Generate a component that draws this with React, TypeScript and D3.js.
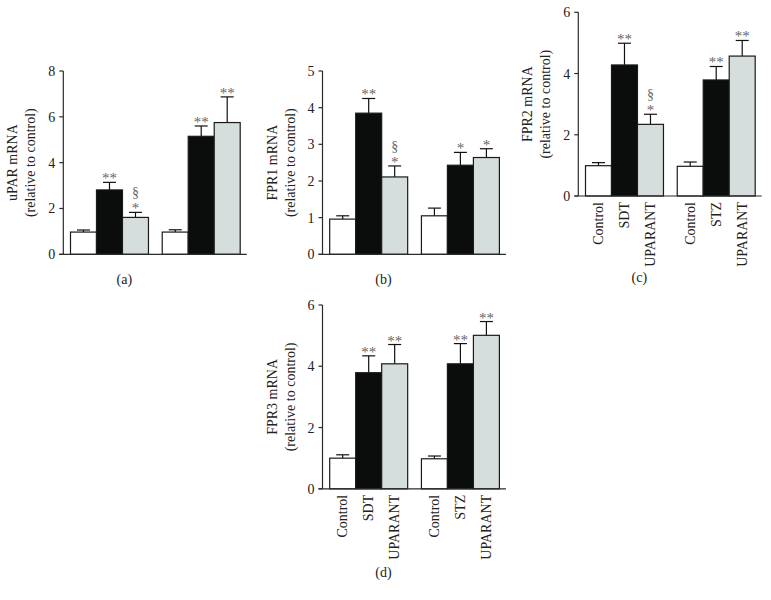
import React from "react";
import * as d3 from "d3";

// ---- data ----
const categories = ["Control", "SDT", "UPARANT", "Control", "STZ", "UPARANT"];
const fills = ["#ffffff", "#0b0c0c", "#d5dedc", "#ffffff", "#0b0c0c", "#d5dedc"];

const uparMean = [0.97, 2.81, 1.61, 0.97, 5.15, 5.75];
const uparErr = [0.09, 0.33, 0.22, 0.1, 0.45, 1.12];
const uparStars = ["", "**", "*", "", "**", "**"];
const uparSection = [false, false, true, false, false, false];
const uparTicks = [0, 2, 4, 6, 8];

const fpr1Mean = [0.96, 3.85, 2.11, 1.05, 2.43, 2.64];
const fpr1Err = [0.09, 0.4, 0.3, 0.21, 0.35, 0.24];
const fpr1Stars = ["", "**", "*", "", "*", "*"];
const fpr1Section = [false, false, true, false, false, false];
const fpr1Ticks = [0, 1, 2, 3, 4, 5];

const fpr2Mean = [0.99, 4.28, 2.34, 0.97, 3.79, 4.57];
const fpr2Err = [0.1, 0.71, 0.33, 0.14, 0.44, 0.51];
const fpr2Stars = ["", "**", "*", "", "**", "**"];
const fpr2Section = [false, false, true, false, false, false];
const fpr2Ticks = [0, 2, 4, 6];

const fpr3Mean = [1.0, 3.79, 4.08, 0.98, 4.08, 5.01];
const fpr3Err = [0.11, 0.55, 0.63, 0.09, 0.66, 0.45];
const fpr3Stars = ["", "**", "**", "", "**", "**"];
const fpr3Section = [false, false, false, false, false, false];
const fpr3Ticks = [0, 2, 4, 6];

const FONT = "'Liberation Serif', 'Times New Roman', Times, serif";
const AXIS = "#2b2b2b";
const STAR = "#666666";

type PanelProps = {
  axisX: number;
  y0: number;
  yTop: number;
  max: number;
  ticks: number[];
  mean: number[];
  err: number[];
  stars: string[];
  section: boolean[];
  title: string;
  letter: string;
  letterY: number;
  showLabels: boolean;
};

function Panel(p: PanelProps) {
  const y = d3.scaleLinear().domain([0, p.max]).range([p.y0, p.yTop]);
  const start = p.axisX + 7.2;
  const outer = d3
    .scaleBand<number>()
    .domain([0, 1])
    .range([start, start + 169.7])
    .paddingInner(0.15)
    .paddingOuter(0);
  const inner = d3
    .scaleBand<number>()
    .domain([0, 1, 2])
    .range([0, outer.bandwidth()])
    .padding(0);
  const bx = (i: number) => (outer(Math.floor(i / 3)) as number) + (inner(i % 3) as number);
  const bw = inner.bandwidth();
  const lastEnd = bx(5) + bw;
  const midY = (p.y0 + p.yTop) / 2;

  return (
    <g fontFamily={FONT}>
      {/* y label */}
      <text
        transform={`translate(${p.axisX - 46},${midY}) rotate(-90)`}
        textAnchor="middle"
        fontSize={14}
        fill="#222"
      >
        {p.title}
      </text>
      <text
        transform={`translate(${p.axisX - 28},${midY}) rotate(-90)`}
        textAnchor="middle"
        fontSize={14}
        fill="#222"
      >
        (relative to control)
      </text>
      {/* y axis */}
      <line x1={p.axisX} x2={p.axisX} y1={y(0)} y2={y(p.max)} stroke={AXIS} strokeWidth={1.2} />
      {p.ticks.map((t) => (
        <g key={t}>
          <line x1={p.axisX - 4} x2={p.axisX} y1={y(t)} y2={y(t)} stroke={AXIS} strokeWidth={1.2} />
          <text x={p.axisX - 8} y={y(t) + 5} textAnchor="end" fontSize={14} fill="#222">
            {t}
          </text>
        </g>
      ))}
      {/* bars */}
      {p.mean.map((m, i) => {
        const x = bx(i);
        const cx = x + bw / 2;
        const capY = y(m + p.err[i]);
        return (
          <g key={i}>
            <line x1={cx} x2={cx} y1={y(m)} y2={capY} stroke="#111" strokeWidth={1.2} />
            <line x1={cx - 6.5} x2={cx + 6.5} y1={capY} y2={capY} stroke="#111" strokeWidth={1.2} />
            <rect
              x={x}
              y={y(m)}
              width={bw}
              height={y(0) - y(m)}
              fill={fills[i]}
              stroke="#1a1a1a"
              strokeWidth={1.2}
            />
            {p.stars[i] && (
              <text x={cx} y={capY + 1} textAnchor="middle" fontSize={15} fill={STAR}>
                {p.stars[i]}
              </text>
            )}
            {p.section[i] && (
              <text x={cx} y={capY - 15} textAnchor="middle" fontSize={14} fill={STAR}>
                §
              </text>
            )}
            {p.showLabels && (
              <text
                transform={`translate(${cx + 4.5},${p.y0 + 6}) rotate(-90)`}
                textAnchor="end"
                fontSize={14}
                fill="#222"
              >
                {categories[i]}
              </text>
            )}
          </g>
        );
      })}
      {/* baseline */}
      <line x1={p.axisX - 4} x2={lastEnd + 6.5} y1={y(0)} y2={y(0)} stroke={AXIS} strokeWidth={1.2} />
      <text x={p.axisX + 61} y={p.letterY} textAnchor="middle" fontSize={14} fill="#222">
        {p.letter}
      </text>
    </g>
  );
}

export default function App() {
  return (
    <svg
      width={771}
      height={600}
      style={{ position: "absolute", left: 0, top: 0, background: "#fff" }}
    >
      <Panel
        axisX={63.3}
        y0={254.3}
        yTop={71}
        max={8}
        ticks={uparTicks}
        mean={uparMean}
        err={uparErr}
        stars={uparStars}
        section={uparSection}
        title="uPAR mRNA"
        letter="(a)"
        letterY={284}
        showLabels={false}
      />
      <Panel
        axisX={322.5}
        y0={254.3}
        yTop={71}
        max={5}
        ticks={fpr1Ticks}
        mean={fpr1Mean}
        err={fpr1Err}
        stars={fpr1Stars}
        section={fpr1Section}
        title="FPR1 mRNA"
        letter="(b)"
        letterY={284}
        showLabels={false}
      />
      <Panel
        axisX={578.3}
        y0={196}
        yTop={12.3}
        max={6}
        ticks={fpr2Ticks}
        mean={fpr2Mean}
        err={fpr2Err}
        stars={fpr2Stars}
        section={fpr2Section}
        title="FPR2 mRNA"
        letter="(c)"
        letterY={282}
        showLabels={true}
      />
      <Panel
        axisX={322.5}
        y0={488.8}
        yTop={305}
        max={6}
        ticks={fpr3Ticks}
        mean={fpr3Mean}
        err={fpr3Err}
        stars={fpr3Stars}
        section={fpr3Section}
        title="FPR3 mRNA"
        letter="(d)"
        letterY={577}
        showLabels={true}
      />
    </svg>
  );
}
